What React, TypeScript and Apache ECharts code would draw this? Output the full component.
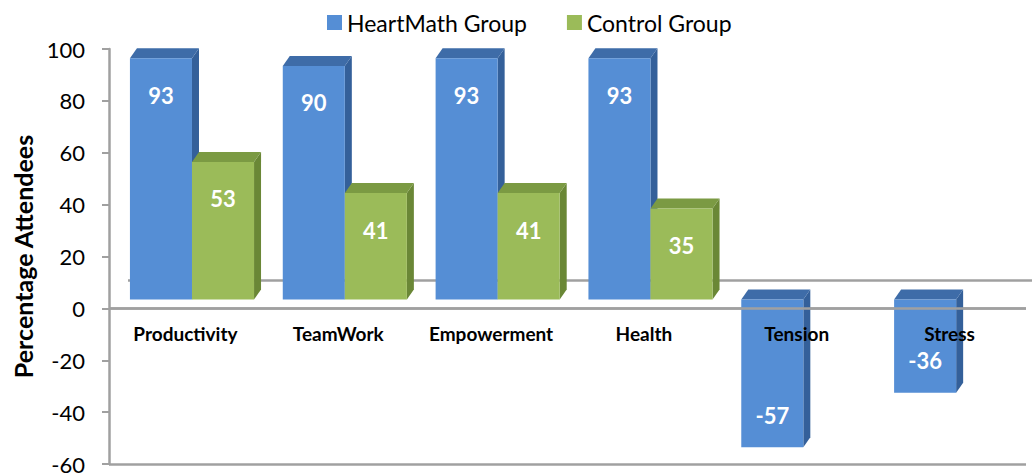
import React, { useEffect, useRef } from "react";
import * as echarts from "echarts";

const categories = ["Productivity", "TeamWork", "Empowerment", "Health", "Tension", "Stress"];
const heartMath = [93, 90, 93, 93, -57, -36];
const control = [53, 41, 41, 35, 0, 0];
const seriesNames = ["HeartMath Group", "Control Group"];
const yMin = -60;
const yMax = 100;
const yStep = 20;

const FONT = "Lato, 'Open Sans', sans-serif";
const LINE = "#A0A0A0";
const CLEAR = "rgba(0,0,0,0)";

const palette = [
  { front: "#558ED5", top: "#3E6CA8", side: "#34609A" },
  { front: "#9BBB59", top: "#7B9A43", side: "#6A8736" },
];

// split line colours per tick (-60, -40, -20, 0, 20, 40, 60, 80, 100): only the bottom and zero lines show
const splitColors = [LINE, CLEAR, CLEAR, LINE, CLEAR, CLEAR, CLEAR, CLEAR, CLEAR];

function zeroBand(params: any, api: any) {
  const cs = params.coordSys;
  const base = api.coord([0, 0]);
  return {
    type: "rect",
    shape: { x: cs.x, y: base[1] - 1.25, width: cs.width, height: 2.5 },
    style: { fill: LINE },
  };
}

function makeRender(which: number) {
  return (params: any, api: any) => {
    const idx = api.value(0);
    const val = api.value(1);
    const children: any[] = [];
    if (val) {
      const band = api.size([1, 0])[0];
      const w = band * 0.406;
      const base = api.coord([idx, 0]);
      const end = api.coord([idx, val]);
      const lift = 9;
      const dx = 7;
      const dy = 10;
      const cx = base[0] + band * 0.043;
      const x0 = which === 0 ? cx - w : cx;
      const x1 = x0 + w;
      const yb = base[1] - lift;
      const ye = end[1] - lift;
      const yTop = Math.min(yb, ye);
      const yBot = Math.max(yb, ye);
      const c = palette[which];
      const labelY = val > 0 ? yTop + 37 : yBot - 32;
      children.push(
        {
          type: "polygon",
          shape: { points: [[x1, yTop], [x1 + dx, yTop - dy], [x1 + dx, yBot - dy], [x1, yBot]] },
          style: { fill: c.side },
        },
        {
          type: "polygon",
          shape: { points: [[x0, yTop], [x0 + dx, yTop - dy], [x1 + dx, yTop - dy], [x1, yTop]] },
          style: { fill: c.top },
        },
        {
          type: "rect",
          shape: { x: x0, y: yTop, width: w, height: yBot - yTop },
          style: { fill: c.front },
        },
        {
          type: "text",
          x: x0 + w / 2,
          y: labelY,
          style: {
            text: String(val),
            fill: "#ffffff",
            font: `bold 22px ${FONT}`,
            align: "center",
            verticalAlign: "middle",
          },
        }
      );
    }
    if (which === 1 && params.dataIndex === control.length - 1) {
      children.push(zeroBand(params, api));
    }
    return { type: "group", children };
  };
}

function renderBackLine(params: any, api: any) {
  const cs = params.coordSys;
  const base = api.coord([0, 0]);
  const yBack = base[1] - 28;
  return {
    type: "line",
    shape: { x1: cs.x + 19, y1: yBack, x2: cs.x + cs.width + 8, y2: yBack },
    style: { stroke: LINE, lineWidth: 2.5 },
  };
}

export default function App() {
  const ref = useRef<HTMLDivElement>(null);
  useEffect(() => {
    if (!ref.current) return;
    const chart = echarts.init(ref.current, null, { renderer: "svg" });
    chart.setOption({
      animation: false,
      backgroundColor: "#ffffff",
      legend: {
        data: seriesNames,
        left: 322,
        top: 6,
        icon: "rect",
        itemWidth: 15,
        itemHeight: 15,
        itemGap: 40,
        textStyle: { fontFamily: FONT, fontSize: 23, color: "#000" },
      },
      grid: { left: 109, right: 6, top: 49, bottom: 12, outerBoundsMode: "none" },
      xAxis: {
        type: "category",
        data: categories,
        position: "bottom",
        z: 10,
        axisLine: { show: false },
        axisTick: { show: false },
        splitLine: { show: false },
        axisLabel: {
          margin: 16,
          fontFamily: FONT,
          fontWeight: "bold",
          fontSize: 19,
          color: "#000",
          interval: 0,
        },
      },
      yAxis: {
        type: "value",
        min: yMin,
        max: yMax,
        interval: yStep,
        name: "Percentage Attendees",
        nameLocation: "middle",
        nameGap: 73,
        nameTextStyle: { fontFamily: FONT, fontWeight: "bold", fontSize: 25, color: "#000" },
        axisLine: { show: true, lineStyle: { color: LINE, width: 2.5 } },
        axisTick: { show: true, length: 7, lineStyle: { color: LINE, width: 2 } },
        splitLine: { show: true, lineStyle: { color: splitColors, width: 2.5 } },
        axisLabel: { margin: 24, fontFamily: FONT, fontSize: 22, color: "#000" },
      },
      series: [
        {
          type: "custom",
          name: "back",
          z: 1,
          renderItem: renderBackLine,
          data: [[0, 0]],
          silent: true,
          itemStyle: { color: LINE },
        },
        {
          type: "custom",
          name: seriesNames[0],
          z: 2,
          renderItem: makeRender(0),
          itemStyle: { color: palette[0].front },
          data: heartMath.map((v, i) => [i, v]),
        },
        {
          type: "custom",
          name: seriesNames[1],
          z: 3,
          renderItem: makeRender(1),
          itemStyle: { color: palette[1].front },
          data: control.map((v, i) => [i, v]),
        },
      ],
    });
    const yZero = chart.convertToPixel({ yAxisIndex: 0 }, 0) as number;
    const yBottom = chart.convertToPixel({ yAxisIndex: 0 }, yMin) as number;
    chart.setOption({ xAxis: { offset: yZero - yBottom } });
    return () => chart.dispose();
  }, []);
  return (
    <div
      ref={ref}
      style={{ position: "fixed", left: 0, top: 0, width: 1032, height: 476 }}
    />
  );
}
